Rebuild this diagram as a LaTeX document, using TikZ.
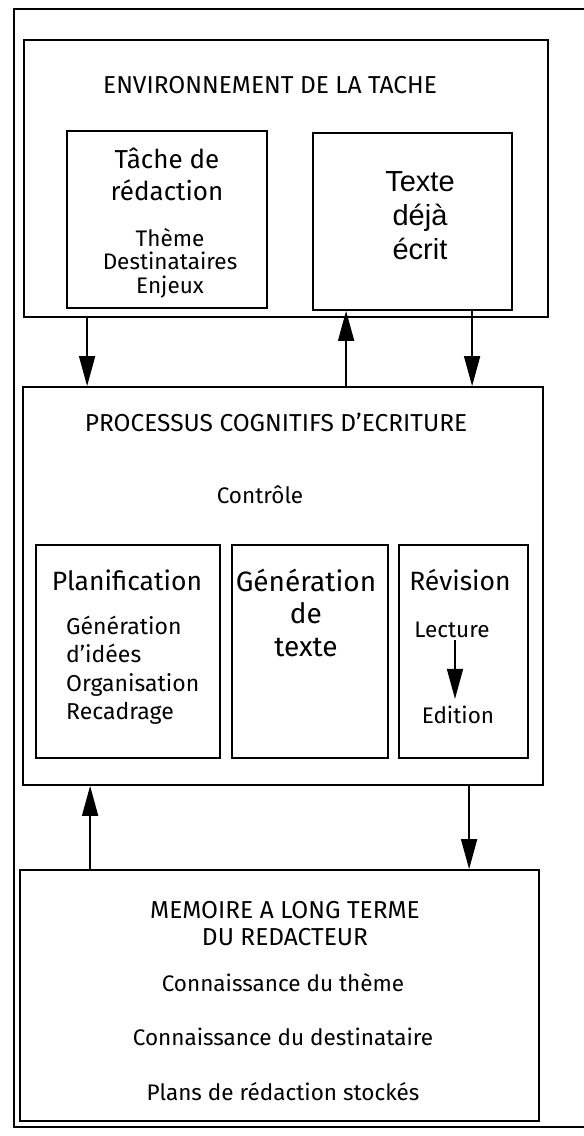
\documentclass[tikz,border=0pt]{standalone}
\usepackage{fontspec}
\setmainfont{Fira Sans}
\newfontfamily\arialfont{Liberation Sans}
\usetikzlibrary{arrows.meta,calc}
\begin{document}
\begin{tikzpicture}[x=1pt,y=-1pt,
  box/.style={draw, line width=1.8pt, inner sep=0pt},
  frameline/.style={line width=1.5pt},
  arr/.style={line width=1.7pt, -{Triangle[length=30pt,width=16pt]}},
  txt/.style={inner sep=0pt, align=center},
  ttl/.style={txt, font=\fontsize{24.5}{27}\selectfont},
  big/.style={txt, font=\fontsize{26.5}{32.5}\selectfont},
  medium/.style={txt, font=\fontsize{22.5}{28.5}\selectfont},
  small/.style={txt, font=\fontsize{22.5}{23.5}\selectfont},
  arialbig/.style={txt, font=\arialfont\fontsize{29}{34}\selectfont}]
\fill[white] (0,0) rectangle (584,1136);
\useasboundingbox (0,0) rectangle (584,1136);
% outer frame
\draw[frameline] (600,9) -- (14,9) -- (14,1127) -- (600,1127);
% boxes
\node[box, minimum width=524pt, minimum height=277pt] (env) at (286,178.5) {};
\node[box, minimum width=200pt, minimum height=177pt] (tache) at (167,219.5) {};
\node[box, minimum width=199pt, minimum height=177pt] (texte) at (412.5,221.5) {};
\node[box, minimum width=520pt, minimum height=398pt] (proc) at (283,586) {};
\node[box, minimum width=184pt, minimum height=213pt] (plan) at (128,651.5) {};
\node[box, minimum width=156pt, minimum height=213pt] (gen) at (310,651.5) {};
\node[box, minimum width=129pt, minimum height=213pt] (rev) at (463.5,651.5) {};
\node[box, minimum width=519pt, minimum height=251pt] (mem) at (279.5,995.5) {};
% texts
\node[ttl] (envt) at (270,85) {ENVIRONNEMENT DE LA TACHE};
\node[big, font=\fontsize{26}{32}\selectfont] (tachet) at (167,174) {Tâche de\\rédaction};
\node[small] (tachei) at (170,263) {Thème\\Destinataires\\Enjeux};
\node[arialbig] (textet) at (420,216) {Texte\\déjà\\écrit};
\node[ttl] (proct) at (276,422) {PROCESSUS COGNITIFS D'ECRITURE};
\node[medium] (ctrl) at (260,495) {Contrôle};
\node[big] (plant) at (127,580) {Planification};
\node[medium, font=\fontsize{23}{28.5}\selectfont, align=left, anchor=west] (plani) at (66,670) {Génération\\d'idées\\Organisation\\Recadrage};
\node[big, font=\fontsize{28}{32.5}\selectfont] (gent) at (306,612.5) {Génération\\de\\texte};
\node[big] (revt) at (460,580) {Révision};
\node[medium] (lect) at (452,630) {Lecture};
\node[medium] (edit) at (458,715) {Edition};
\node[ttl] (memt) at (285,923.5) {MEMOIRE A LONG TERME\\DU REDACTEUR};
\node[medium] (m1) at (283,983) {Connaissance du thème};
\node[medium] (m2) at (283,1037) {Connaissance du destinataire};
\node[medium] (m3) at (283,1092) {Plans de rédaction stockés};
% connectors
\draw[arr] ([xshift=64pt]env.south west) -- ([xshift=65pt]proc.north west);
\draw[arr] ([xshift=324pt]proc.north west) -- ([xshift=34pt]texte.south west);
\draw[arr] ([xshift=160pt]texte.south west) -- ([xshift=450pt]proc.north west);
\draw[arr] ([xshift=71pt]mem.north west) -- ([xshift=68pt]proc.south west);
\draw[arr] ([xshift=447pt]proc.south west) -- ([xshift=450pt]mem.north west);
\draw[arr] ([xshift=3pt,yshift=-2pt]lect.south) -- ([xshift=3pt,yshift=7pt]lect.south |- edit.north);
\end{tikzpicture}
\end{document}
